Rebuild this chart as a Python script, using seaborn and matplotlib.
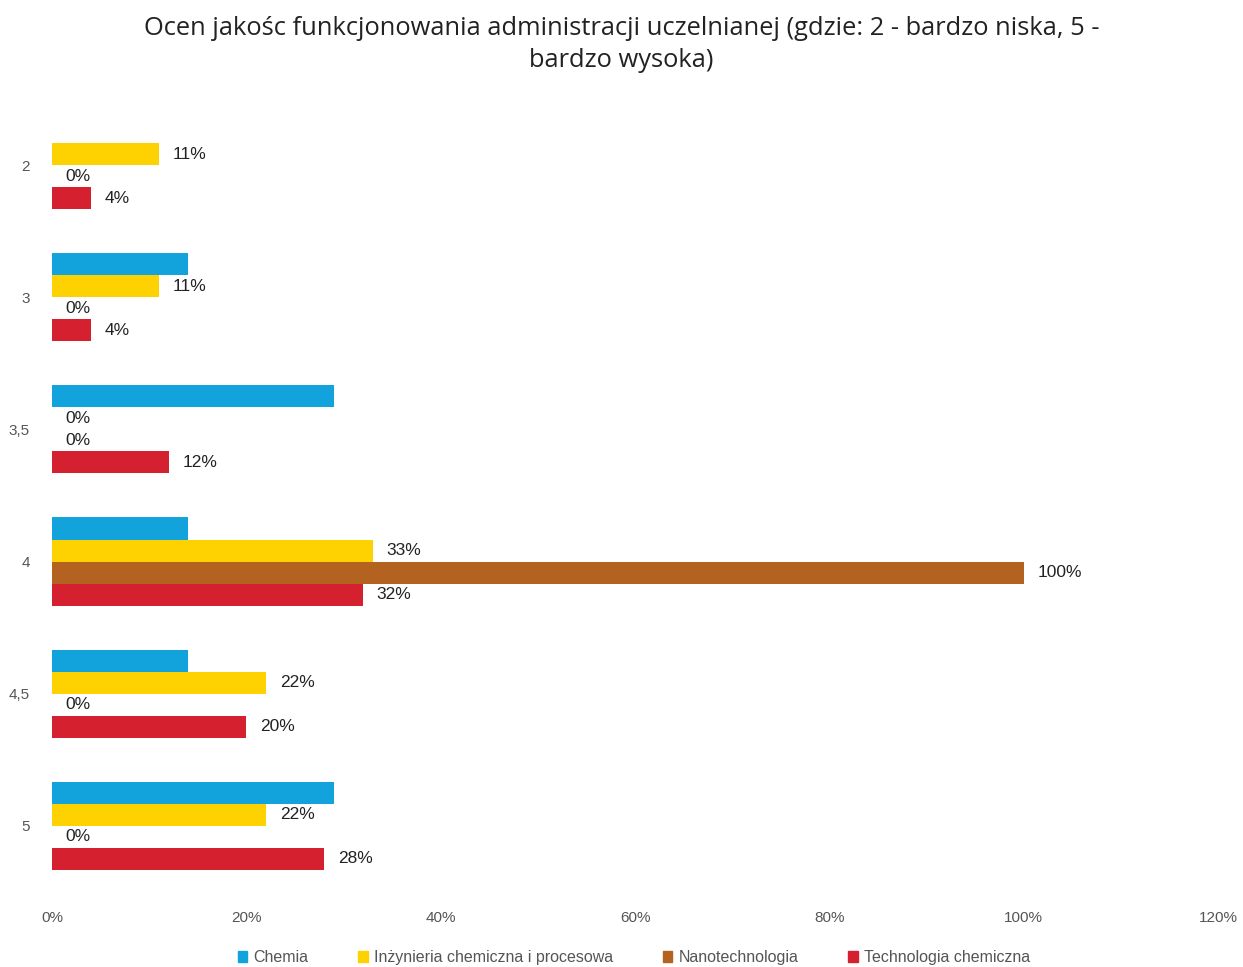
import matplotlib
matplotlib.use('Agg')
import matplotlib.pyplot as plt
import matplotlib.patches as mpatches
import pandas as pd
import seaborn as sns

# values (percent)
categories = ['2', '3', '3,5', '4', '4,5', '5']
series = ['Chemia', 'Inżynieria chemiczna i procesowa', 'Nanotechnologia', 'Technologia chemiczna']
chemia = [0, 14, 29, 14, 14, 29]
inzynieria = [11, 11, 0, 33, 22, 22]
nano = [0, 0, 0, 100, 0, 0]
technologia = [4, 4, 12, 32, 20, 28]
colors = ['#12a3dc', '#fed200', '#b4621f', '#d4202f']
x_ticks = [0, 20, 40, 60, 80, 100, 120]

title = ('Ocen jakośc funkcjonowania administracji uczelnianej (gdzie: 2 - bardzo niska, 5 -\n'
         'bardzo wysoka)')

sns.set_style('white')
plt.rcParams['font.family'] = ['Liberation Sans', 'DejaVu Sans']

rows = []
for name, vals in zip(series, [chemia, inzynieria, nano, technologia]):
    for cat, v in zip(categories, vals):
        rows.append({'kategoria': cat, 'kierunek': name, 'procent': v})
df = pd.DataFrame(rows)

fig = plt.figure(figsize=(12.43, 9.67), dpi=100)
ax = fig.add_axes([0.0418, 0.0776, 0.9382, 0.82])

sns.barplot(data=df, y='kategoria', x='procent', hue='kierunek', order=categories,
            hue_order=series, palette=colors, orient='h', width=0.667,
            errorbar=None, legend=False, ax=ax, saturation=1, linewidth=0)

# data labels for every series except Chemia
for i, cont in enumerate(ax.containers):
    if i == 0:
        continue
    ax.bar_label(cont, labels=[f'{v:.0f}%' for v in cont.datavalues],
                 padding=10, fontsize=12.5, color='#222222')

ax.set_xlim(0, 120)
ax.set_ylim(5.5, -0.5)
ax.set_xticks(x_ticks)
ax.set_xticklabels([f'{t}%' for t in x_ticks])
ax.tick_params(axis='both', length=0, labelsize=11, labelcolor='#555555', pad=14)
ax.tick_params(axis='y', pad=16)
ax.set_xlabel('')
ax.set_ylabel('')
for s in ax.spines.values():
    s.set_visible(False)
ax.grid(False)

fig.suptitle(title, y=0.983, fontsize=18.4, color='#222222', linespacing=1.35,
             family=['Open Sans', 'DejaVu Sans'])

handles = [mpatches.Patch(color=c, label=n) for c, n in zip(colors, series)]
fig.legend(handles=handles, loc='lower center', ncol=4, frameon=False,
           bbox_to_anchor=(0.51, -0.013), fontsize=11.5, handlelength=0.6,
           handleheight=0.6, handletextpad=0.4, columnspacing=3.1,
           labelcolor='#555555')

fig.savefig('out.png', dpi=100)
